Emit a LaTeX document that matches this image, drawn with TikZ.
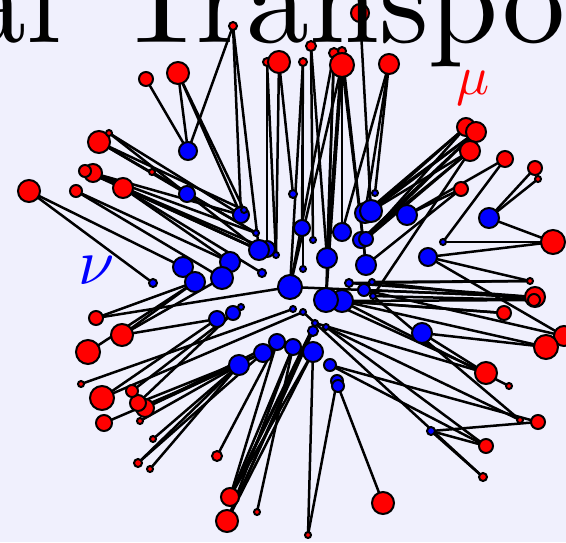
\documentclass[tikz,border=0pt]{standalone}
\usepackage{graphicx}
\definecolor{bgc}{RGB}{240,240,253}
\definecolor{dotred}{RGB}{255,0,0}
\definecolor{dotblue}{RGB}{0,0,255}
\tikzset{
  link/.style={draw=black, line width=2.5pt},
  reddot/.style={draw=black, fill=dotred, line width=2pt},
  bluedot/.style={draw=black, fill=dotblue, line width=2pt},
  titletext/.style={inner sep=0pt, font=\fontsize{10}{10}\selectfont},
}
\def\reds{r1/233/26/4, r2/146/79/7, r3/178/73/11, r4/267/62/4, r5/279/62/11,
 r6/311/46/5, r7/303/62/4, r8/334/53/5, r9/342/51/4, r10/342/65/12,
 r11/360/13/9, r12/389/64/10, r13/466/127/9, r14/476/132/10, r15/470/151/10,
 r16/505/159/8, r17/535/168/7, r18/538/179/3, r19/461/189/7, r20/553/242/12,
 r21/530/281/3, r22/535/297/10, r23/534/300/6, r24/504/313/7, r25/564/336/10,
 r26/546/347/12, r27/486/373/11, r28/509/386/3, r29/538/422/7, r30/520/420/3,
 r31/486/446/7, r32/483/477/4, r33/383/503/11, r34/308/535/3, r35/257/512/3,
 r36/227/521/11, r37/230/497/9, r38/217/456/5, r39/150/469/3, r40/138/463/4,
 r41/153/439/3, r42/140/421/3, r43/104/423/8, r44/145/408/9, r45/138/403/8,
 r46/102/398/12, r47/132/391/6, r48/81/384/3, r49/88/352/12, r50/122/335/11,
 r51/96/318/7, r52/29/191/11, r53/76/191/6, r54/123/188/10, r55/93/173/9,
 r56/85/171/6, r57/152/172/3, r58/99/142/11, r59/109/133/3}
\def\blues{b1/188/151/9, b2/187/194/8, b3/241/215/8, b4/244/210/3, b5/256/233/3,
 b7/267/249/8, b6/259/250/10, b8/276/255/3, b9/230/262/10, b10/262/273/4,
 b11/293/194/4, b12/302/228/8, b13/313/240/3, b14/342/232/9, b15/365/213/10,
 b16/371/211/11, b17/361/240/8, b18/366/239/7, b19/407/215/10, b20/375/193/3,
 b21/327/258/10, b22/366/265/10, b23/303/269/3, b24/489/218/10, b25/443/242/3,
 b26/428/257/9, b27/183/267/10, b28/195/282/10, b29/222/278/11, b30/153/283/4,
 b31/290/287/12, b33/342/301/11, b32/326/300/12, b34/349/283/4, b35/364/290/6,
 b36/372/282/3, b37/373/296/3, b38/293/309/3, b39/303/312/3, b40/315/323/3,
 b41/313/331/5, b42/326/327/3, b43/217/319/8, b44/233/313/7, b45/241/307/3,
 b46/277/342/8, b47/263/353/9, b48/239/365/10, b49/293/347/8, b50/313/352/10,
 b51/330/365/6, b52/337/381/6, b53/338/386/6, b54/422/333/10, b55/431/431/4}
\def\links{r1/b1, r1/b3, r1/b6, r2/b1, r3/b1, r3/b3, r3/b4, r4/b7, r4/b8,
 r5/b11, r5/b8, r6/b13, r6/b21, r7/b12, r7/b23, r7/b31, r8/b31, r8/b21, r8/b32,
 r9/b22, r9/b14, r9/b21, r10/b14, r10/b21, r10/b32, r10/b31, r10/b22,
 r11/b16, r12/b14, r12/b15, r12/b20,
 r13/b16, r13/b15, r13/b18, r14/b18, r14/b17, r14/b16, r14/b15, r15/b18, r15/b17,
 r15/b37, r15/b16,
 r16/b19, r16/b25, r17/b24, r18/b24, r19/b19, r19/b22, r20/b24, r20/b25, r20/b26,
 r21/b26, r21/b34, r21/b36, r22/b35, r22/b34, r22/b31, r23/b36, r23/b37, r23/b33,
 r24/b33, r24/b32, r25/b26, r25/b35, r26/b54, r26/b33, r27/b54, r27/b32, r27/b40,
 r28/b33, r29/b55, r29/b51, r30/b42, r30/b37, r31/b51, r31/b42, r31/b55,
 r32/b55, r32/b39, r33/b53, r34/b50, r34/b52, r35/b49, r36/b49, r36/b41, r36/b50,
 r36/b40, r37/b49, r37/b40, r37/b46, r37/b41, r37/b50, r38/b46, r39/b48,
 r40/b47, r40/b48, r41/b48, r42/b48,
 r43/b48, r44/b46, r44/b47, r45/b44, r45/b47, r46/b43, r46/b39, r47/b45,
 r48/b38, r49/b28, r50/b28, r50/b29, r50/b43, r51/b31, r51/b28,
 r52/b30, r52/b27, r53/b29, r53/b9, r54/b9, r54/b10, r54/b6, r55/b6, r55/b5,
 r55/b3, r56/b7, r56/b6, r57/b5, r58/b2, r58/b4, r58/b5, r59/b6, r59/b3}
\begin{document}
\begin{tikzpicture}[x=1pt,y=-1pt]
\useasboundingbox (0,0) rectangle (566,542);
\fill[bgc] (0,0) rectangle (566,542);
\clip (0,0) rectangle (566,542);
\foreach \n/\x/\y/\r in \reds {\coordinate (\n) at (\x,\y);}
\foreach \n/\x/\y/\r in \blues {\coordinate (\n) at (\x,\y);}
\foreach \a/\b in \links {\draw[link] (\a) -- (\b);}
\foreach \n/\x/\y/\r in \reds {\draw[reddot] (\n) circle[radius=\r pt];}
\foreach \n/\x/\y/\r in \blues {\draw[bluedot] (\n) circle[radius=\r pt];}
\node[titletext, anchor=base east] (titleA) at (62,42) {\scalebox{12.6}{al}};
\node[titletext, anchor=base west] (titleB) at (116,42) {\scalebox{12.6}{Transpo}};
\node[text=dotred, inner sep=0pt] (mu) at (473,88) {\scalebox{5.5}{$\mu$}};
\node[text=dotblue, inner sep=0pt] (nu) at (97,271) {\scalebox{6.5}{$\nu$}};
\end{tikzpicture}
\end{document}
